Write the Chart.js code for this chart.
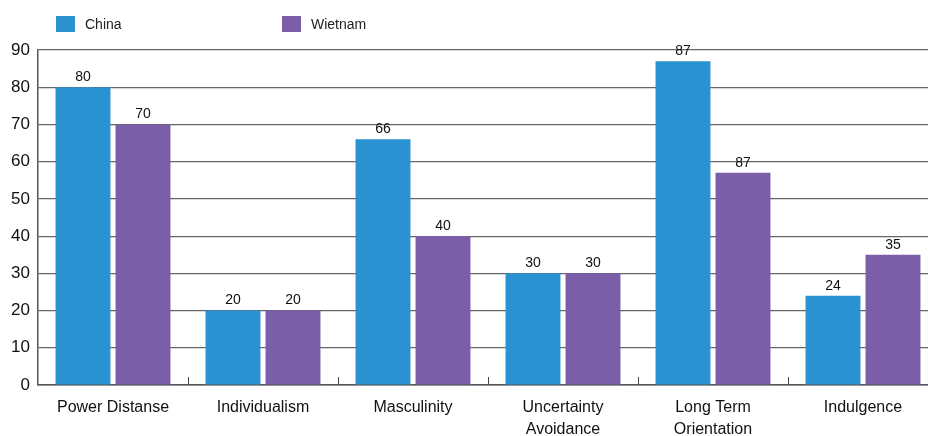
<!DOCTYPE html>
<html>
<head>
<meta charset="utf-8">
<script src="https://cdn.jsdelivr.net/npm/chart.js@4"></script>
<style>
  html, body { margin: 0; padding: 0; background: #fff; overflow: hidden; }
  #wrap { position: relative; width: 940px; height: 436px; }
  .leg { position: absolute; top: 16px; font: 14px "Liberation Sans", Arial, sans-serif; color: #222; line-height: 16px; }
  .leg i { display: inline-block; width: 19px; height: 16px; vertical-align: top; margin-right: 10px; }
</style>
</head>
<body>
<div id="wrap">
  <canvas id="dimChart" width="940" height="436"></canvas>
  <div class="leg" style="left:56px"><i style="background:#2b92d2"></i>China</div>
  <div class="leg" style="left:282px"><i style="background:#7b5ea8"></i>Wietnam</div>
</div>
<script>
// data
const categories = [['Power Distanse'], ['Individualism'], ['Masculinity'], ['Uncertainty', 'Avoidance'], ['Long Term', 'Orientation'], ['Indulgence']];
const chinaValues = [80, 20, 66, 30, 87, 24];
const vietnamValues = [70, 20, 40, 30, 57, 35];
// printed labels (the original prints 87 over the 57 bar)
const chinaLabels = ['80', '20', '66', '30', '87', '24'];
const vietnamLabels = ['70', '20', '40', '30', '87', '35'];
const yTicks = [0, 10, 20, 30, 40, 50, 60, 70, 80, 90];

const FONT = '"Liberation Sans", Arial, sans-serif';

// value labels above bars
const barLabels = {
  id: 'barLabels',
  afterDatasetsDraw(chart) {
    const ctx = chart.ctx;
    const texts = [chinaLabels, vietnamLabels];
    ctx.save();
    ctx.font = '14px ' + FONT;
    ctx.fillStyle = '#111';
    ctx.textAlign = 'center';
    ctx.textBaseline = 'bottom';
    chart.data.datasets.forEach((ds, i) => {
      chart.getDatasetMeta(i).data.forEach((bar, j) => {
        ctx.fillText(texts[i][j], bar.x, bar.y - 3);
      });
    });
    ctx.restore();
  }
};

// small ticks between categories, pointing up from the axis
const catTicks = {
  id: 'catTicks',
  afterDraw(chart) {
    const x = chart.scales.x;
    const ctx = chart.ctx;
    const step = x.getPixelForValue(1) - x.getPixelForValue(0);
    ctx.save();
    ctx.strokeStyle = '#444';
    ctx.lineWidth = 1;
    for (let i = 1; i < categories.length; i++) {
      const px = Math.round(x.getPixelForValue(i) - step / 2) + 0.5;
      ctx.beginPath();
      ctx.moveTo(px, x.top);
      ctx.lineTo(px, x.top - 8);
      ctx.stroke();
    }
    ctx.restore();
  }
};

new Chart(document.getElementById('dimChart'), {
  type: 'bar',
  data: {
    labels: categories,
    datasets: [
      { label: 'China', data: chinaValues, backgroundColor: '#2b92d2' },
      { label: 'Wietnam', data: vietnamValues, backgroundColor: '#7b5ea8' }
    ]
  },
  options: {
    responsive: false,
    animation: false,
    layout: { padding: { top: 50, right: 2, left: 0, bottom: 0 } },
    datasets: { bar: { categoryPercentage: 0.8, barPercentage: 0.915 } },
    plugins: { legend: { display: false }, tooltip: { enabled: false } },
    scales: {
      x: {
        grid: { display: false, drawTicks: false },
        border: { color: '#555', width: 1.5 },
        ticks: { color: '#111', font: { family: FONT, size: 16, lineHeight: 1.4 }, padding: 11, maxRotation: 0, autoSkip: false },
        afterFit(scale) { scale.height = 51; }
      },
      y: {
        min: 0,
        max: 90,
        afterBuildTicks(scale) { scale.ticks = yTicks.map(v => ({ value: v })); },
        grid: { color: '#666', lineWidth: 1.2, drawTicks: false },
        border: { color: '#555', width: 1.5 },
        ticks: { color: '#111', font: { family: FONT, size: 17 }, padding: 8 },
        afterFit(scale) { scale.width = 38; }
      }
    }
  },
  plugins: [barLabels, catTicks]
});
</script>
</body>
</html>
